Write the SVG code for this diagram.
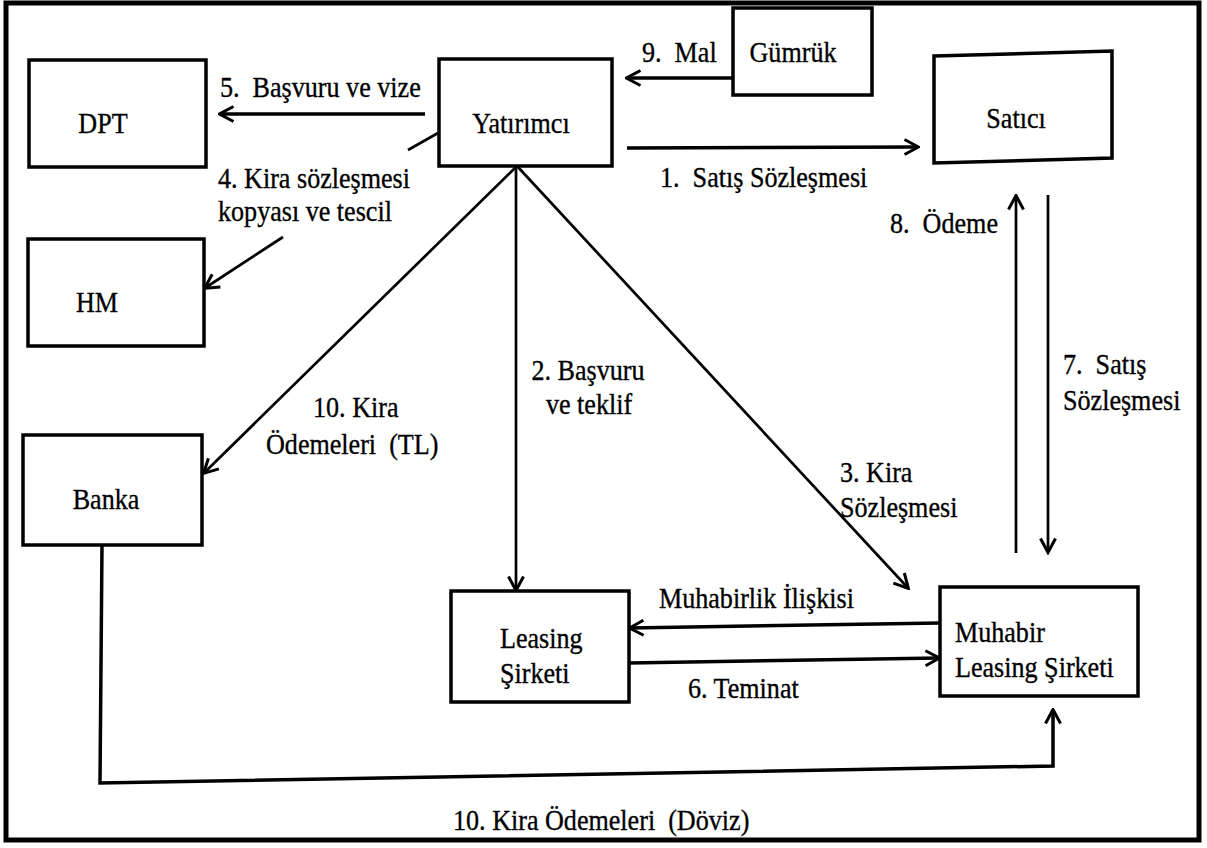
<svg xmlns="http://www.w3.org/2000/svg" width="1207" height="848" viewBox="0 0 1207 848">
<style>
.box{fill:#fff;stroke:#000;stroke-width:3.5}
.t{font-family:"Liberation Serif","Times New Roman",serif;font-size:30px;fill:#000;stroke:#000;stroke-width:0.35;white-space:pre}
.c{text-anchor:middle}
.ln{fill:none;stroke:#000;stroke-width:2.7}
.th{stroke-width:3.5}
.ar{marker-end:url(#ah)}
</style>
<defs>
<marker id="ah" markerUnits="userSpaceOnUse" markerWidth="18" markerHeight="18" viewBox="0 0 18 18" refX="15.5" refY="9" orient="auto">
<path d="M2,1.5 L16,9 L2,16.5" fill="none" stroke="#000" stroke-width="3"/>
</marker>
</defs>
<rect width="1207" height="848" fill="#fff"/>
<rect x="6" y="3" width="1193" height="837" fill="none" stroke="#000" stroke-width="5"/>
<g id="connectors">
<line class="ln th ar" x1="425" y1="114" x2="220" y2="114"/>
<line class="ln th ar" x1="732" y1="78" x2="627" y2="78"/>
<line class="ln th ar" x1="627" y1="148" x2="918" y2="147"/>
<line class="ln" x1="438" y1="133" x2="408" y2="150"/>
<line class="ln ar" x1="283" y1="237" x2="205" y2="288"/>
<line class="ln ar" x1="517" y1="166" x2="204" y2="473"/>
<line class="ln ar" x1="516" y1="166" x2="516" y2="590"/>
<line class="ln ar" x1="517" y1="166" x2="908" y2="588"/>
<line class="ln ar" x1="1016" y1="553" x2="1016" y2="196"/>
<line class="ln ar" x1="1048" y1="195" x2="1048" y2="552"/>
<line class="ln th ar" x1="940" y1="623" x2="630" y2="628"/>
<line class="ln th ar" x1="629" y1="663" x2="939" y2="658"/>
<polyline class="ln th ar" points="102,545 100,783 1053,766 1053,710"/>
<text class="t" transform="translate(220,97) scale(.87,1)">5.  Başvuru ve vize</text>
<text class="t" transform="translate(642,62) scale(.87,1)">9.  Mal</text>
<text class="t" transform="translate(660,187) scale(.87,1)">1.  Satış Sözleşmesi</text>
<text class="t" transform="translate(218,188) scale(.87,1)">4. Kira sözleşmesi</text>
<text class="t" transform="translate(218,221) scale(.87,1)">kopyası ve tescil</text>
<text class="t" transform="translate(890,233) scale(.87,1)">8.  Ödeme</text>
<text class="t" transform="translate(1063,374) scale(.87,1)">7.  Satış</text>
<text class="t" transform="translate(1063,410) scale(.87,1)">Sözleşmesi</text>
<text class="t c" transform="translate(588,380) scale(.87,1)">2. Başvuru</text>
<text class="t c" transform="translate(589,414) scale(.87,1)">ve teklif</text>
<text class="t" transform="translate(313,417) scale(.87,1)">10. Kira</text>
<text class="t" transform="translate(266,454) scale(.87,1)">Ödemeleri  (TL)</text>
<text class="t" transform="translate(840,482) scale(.87,1)">3. Kira</text>
<text class="t" transform="translate(840,517) scale(.87,1)">Sözleşmesi</text>
<text class="t" transform="translate(659,608) scale(.87,1)">Muhabirlik İlişkisi</text>
<text class="t" transform="translate(688,698) scale(.87,1)">6. Teminat</text>
<text class="t" transform="translate(453,830) scale(.87,1)">10. Kira Ödemeleri  (Döviz)</text>
</g>
<g id="dpt">
<rect class="box" x="29" y="60" width="177" height="107"/>
<text class="t c" transform="translate(103,133) scale(.87,1)">DPT</text>
</g>
<g id="yatirimci">
<rect class="box" x="439" y="59" width="173" height="107"/>
<text class="t c" transform="translate(521,133) scale(.87,1)">Yatırımcı</text>
</g>
<g id="gumruk">
<rect class="box" x="733" y="8" width="139" height="87"/>
<text class="t c" transform="translate(793,62) scale(.87,1)">Gümrük</text>
</g>
<g id="satici">
<polygon class="box" points="934,56 1112,51 1112,158 934,163"/>
<text class="t c" transform="translate(1016,128) scale(.87,1)">Satıcı</text>
</g>
<g id="hm">
<rect class="box" x="28" y="239" width="176" height="107"/>
<text class="t c" transform="translate(97,312) scale(.87,1)">HM</text>
</g>
<g id="banka">
<rect class="box" x="23" y="435" width="179" height="110"/>
<text class="t c" transform="translate(106,509) scale(.87,1)">Banka</text>
</g>
<g id="leasing">
<rect class="box" x="451" y="591" width="178" height="111"/>
<text class="t" transform="translate(500,648) scale(.87,1)">Leasing</text>
<text class="t" transform="translate(500,683) scale(.87,1)">Şirketi</text>
</g>
<g id="muhabir">
<rect class="box" x="940" y="587" width="198" height="109"/>
<text class="t" transform="translate(955,642) scale(.87,1)">Muhabir</text>
<text class="t" transform="translate(955,677) scale(.87,1)">Leasing Şirketi</text>
</g>
</svg>
